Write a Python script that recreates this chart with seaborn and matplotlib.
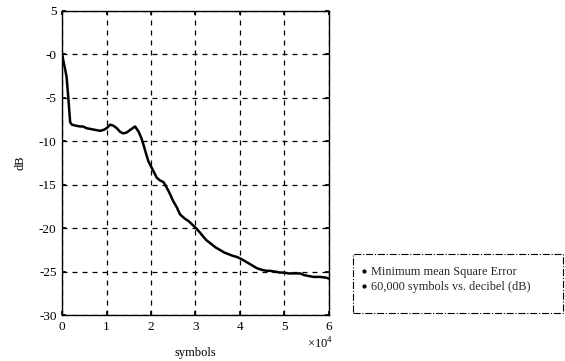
import matplotlib
matplotlib.use("Agg")
import matplotlib.pyplot as plt
import seaborn as sns
import pandas as pd
from matplotlib.lines import Line2D
from matplotlib.patches import Rectangle

# data (x in units of 10^4 symbols, y in dB)
x_vals = [0.0, 0.03, 0.07, 0.10, 0.14, 0.18, 0.22, 0.30, 0.40, 0.47, 0.55, 0.65, 0.75, 0.85, 0.93,
          1.00, 1.08, 1.15, 1.23, 1.30, 1.37, 1.45, 1.53, 1.64, 1.72, 1.78, 1.83, 1.88, 1.94,
          2.00, 2.06, 2.13, 2.20, 2.28, 2.35, 2.42, 2.50, 2.58, 2.65, 2.76, 2.85, 2.91, 3.03,
          3.10, 3.18, 3.25, 3.35, 3.45, 3.55, 3.65, 3.75, 3.85, 3.93, 4.05, 4.15, 4.25, 4.38,
          4.50, 4.60, 4.67, 4.80, 4.90, 4.97, 5.10, 5.20, 5.35, 5.45, 5.55, 5.65, 5.80, 5.95, 6.0]
y_vals = [0.0, -0.8, -1.8, -2.6, -5.1, -7.8, -8.1, -8.2, -8.3, -8.3, -8.5, -8.6, -8.7, -8.8, -8.7,
          -8.5, -8.1, -8.2, -8.5, -8.9, -9.1, -9.0, -8.7, -8.3, -8.9, -9.6, -10.4, -11.3, -12.3,
          -12.9, -13.5, -14.2, -14.5, -14.7, -15.3, -16.0, -16.9, -17.6, -18.4, -18.9, -19.2, -19.5, -20.1,
          -20.5, -21.0, -21.4, -21.8, -22.2, -22.5, -22.8, -23.0, -23.2, -23.3, -23.6, -23.9, -24.2, -24.6,
          -24.8, -24.9, -24.9, -25.0, -25.1, -25.1, -25.2, -25.2, -25.2, -25.4, -25.5, -25.6, -25.6, -25.7, -25.8]

x_ticks = [0, 1, 2, 3, 4, 5, 6]
y_ticks = [5, 0, -5, -10, -15, -20, -25, -30]
y_ticklabels = ["5", "-0", "-5", "-10", "-15", "-20", "-25", "-30"]
legend_labels = ["Minimum mean Square Error", "60,000 symbols vs. decibel (dB)"]

sns.set_theme(style="white")
plt.rcParams["font.family"] = ["Liberation Serif", "DejaVu Serif"]
plt.rcParams["mathtext.fontset"] = "custom"
plt.rcParams["mathtext.rm"] = "Liberation Serif"

fig = plt.figure(figsize=(5.65, 3.61), dpi=100)
ax = fig.add_axes([0.110, 0.127, 0.472, 0.843])

df = pd.DataFrame({"symbols": x_vals, "dB": y_vals})
sns.lineplot(data=df, x="symbols", y="dB", ax=ax, color="black", linewidth=1.8)

ax.set_xlim(0, 6)
ax.set_ylim(-30, 5)
ax.set_xticks(x_ticks)
ax.set_xticklabels([str(t) for t in x_ticks], fontsize=9.5)
ax.set_yticks(y_ticks)
ax.set_yticklabels(y_ticklabels, fontsize=9.5)
ax.grid(True, color="black", linestyle=(0, (4, 4)), linewidth=0.9)
for s in ax.spines.values():
    s.set_color("black")
    s.set_linewidth(1.0)
ax.tick_params(direction="in", length=3, color="black", top=True, right=True,
               bottom=True, left=True, labelcolor="black", pad=4)
ax.set_xlabel("symbols", fontsize=9, color="black", labelpad=10)
ax.set_ylabel("dB", fontsize=9, color="black", labelpad=9)
ax.text(0.966, -0.068, r"$\times$10$^4$", transform=ax.transAxes, ha="center", va="top",
        fontsize=9, color="black")

# dash-dot legend box
fig.patches.append(Rectangle((0.625, 0.133), 0.371, 0.163, transform=fig.transFigure,
                             fill=False, edgecolor="black", linestyle="-.", linewidth=0.8))
handles = [Line2D([], [], marker=".", color="black", linestyle="none", markersize=4)
           for _ in legend_labels]
leg = fig.legend(handles, legend_labels, loc="upper left", bbox_to_anchor=(0.637, 0.262),
                 fontsize=8.8, frameon=False, handlelength=0.6,
                 handletextpad=0.3, borderpad=0.0, labelspacing=0.2, borderaxespad=0)

fig.savefig("out.png", dpi=100)
